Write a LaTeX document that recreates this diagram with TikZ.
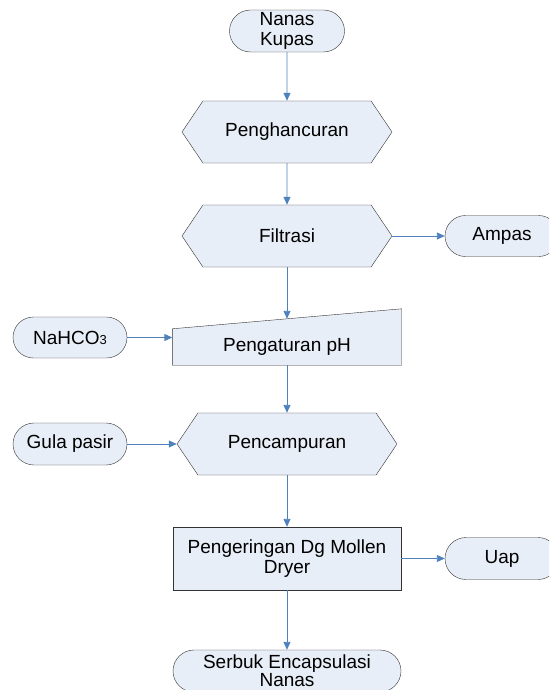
\documentclass[tikz,border=0pt]{standalone}
\usepackage{fontspec}
\setmainfont{Liberation Sans}
\usetikzlibrary{arrows.meta,shapes.misc,shapes.symbols,backgrounds}
\definecolor{boxfill}{RGB}{232,238,247}
\definecolor{flowblue}{RGB}{79,129,189}

\begin{document}
\begin{tikzpicture}[x=1pt, y=-1pt,
  every node/.style={font=\fontsize{19}{20}\selectfont, align=center, inner sep=0pt},
  ujung/.style={draw=black!80, fill=boxfill, rounded rectangle, minimum width=115pt, minimum height=42pt},
  proses/.style={draw=black!80, fill=boxfill, signal, signal to=east and west, signal pointer angle=112, minimum width=210pt, minimum height=62pt},
  kotak/.style={draw=black!80, fill=boxfill, rectangle, minimum width=228pt, minimum height=63pt},
  panah/.style={draw=flowblue, line width=0.9pt, -{Triangle[length=8pt,width=7pt]}}
]
\clip (0,0) rectangle (549,690);
\node[ujung] (start) at (287,31) {Nanas\\Kupas};
\node[proses] (hancur) at (287,132) {Penghancuran};
\node[proses] (filtrasi) at (287,236) {Filtrasi};
\node[ujung, minimum width=114pt, minimum height=41pt] (ampas) at (502,236) {Ampas};
\node[minimum width=229pt, minimum height=36pt] (ph) at (287,347) {Pengaturan pH};
\begin{scope}[on background layer]
  \draw[draw=black!80, fill=boxfill] (ph.south west) -- (ph.north west) -- ([yshift=20pt]ph.north east) -- (ph.south east) -- cycle;
\end{scope}
\coordinate (phtop) at ([yshift=10pt]ph.north);
\node[ujung, minimum width=114pt, minimum height=41pt] (nahco) at (70,337.5) {NaHCO{\fontsize{13}{13}\selectfont 3}};
\node[proses, minimum width=220pt] (campur) at (287,444) {Pencampuran};
\node[ujung, minimum width=114pt] (gula) at (70,444) {Gula pasir};
\node[kotak] (kering) at (287,558.5) {Pengeringan Dg Mollen\\Dryer};
\node[ujung, minimum width=114pt] (uap) at (502,558.5) {Uap};
\node[ujung, minimum width=228pt, font=\fontsize{19}{18}\selectfont] (serbuk) at (287,671) {Serbuk Encapsulasi\\Nanas};

\draw[panah] (start) -- (hancur);
\draw[panah] (hancur) -- (filtrasi);
\draw[panah] (filtrasi.east) -- (filtrasi.east -| ampas.west);
\draw[panah] (filtrasi.south) -- (filtrasi.south |- phtop);
\draw[panah] (nahco.east) -- (nahco.east -| ph.west);
\draw[panah] (ph.south) -- (ph.south |- campur.north);
\draw[panah] (gula.east) -- (gula.east -| campur.west);
\draw[panah] (campur.south) -- (campur.south |- kering.north);
\draw[panah] (kering.east) -- (kering.east -| uap.west);
\draw[panah] (kering.south) -- (kering.south |- serbuk.north);
\end{tikzpicture}
\end{document}
